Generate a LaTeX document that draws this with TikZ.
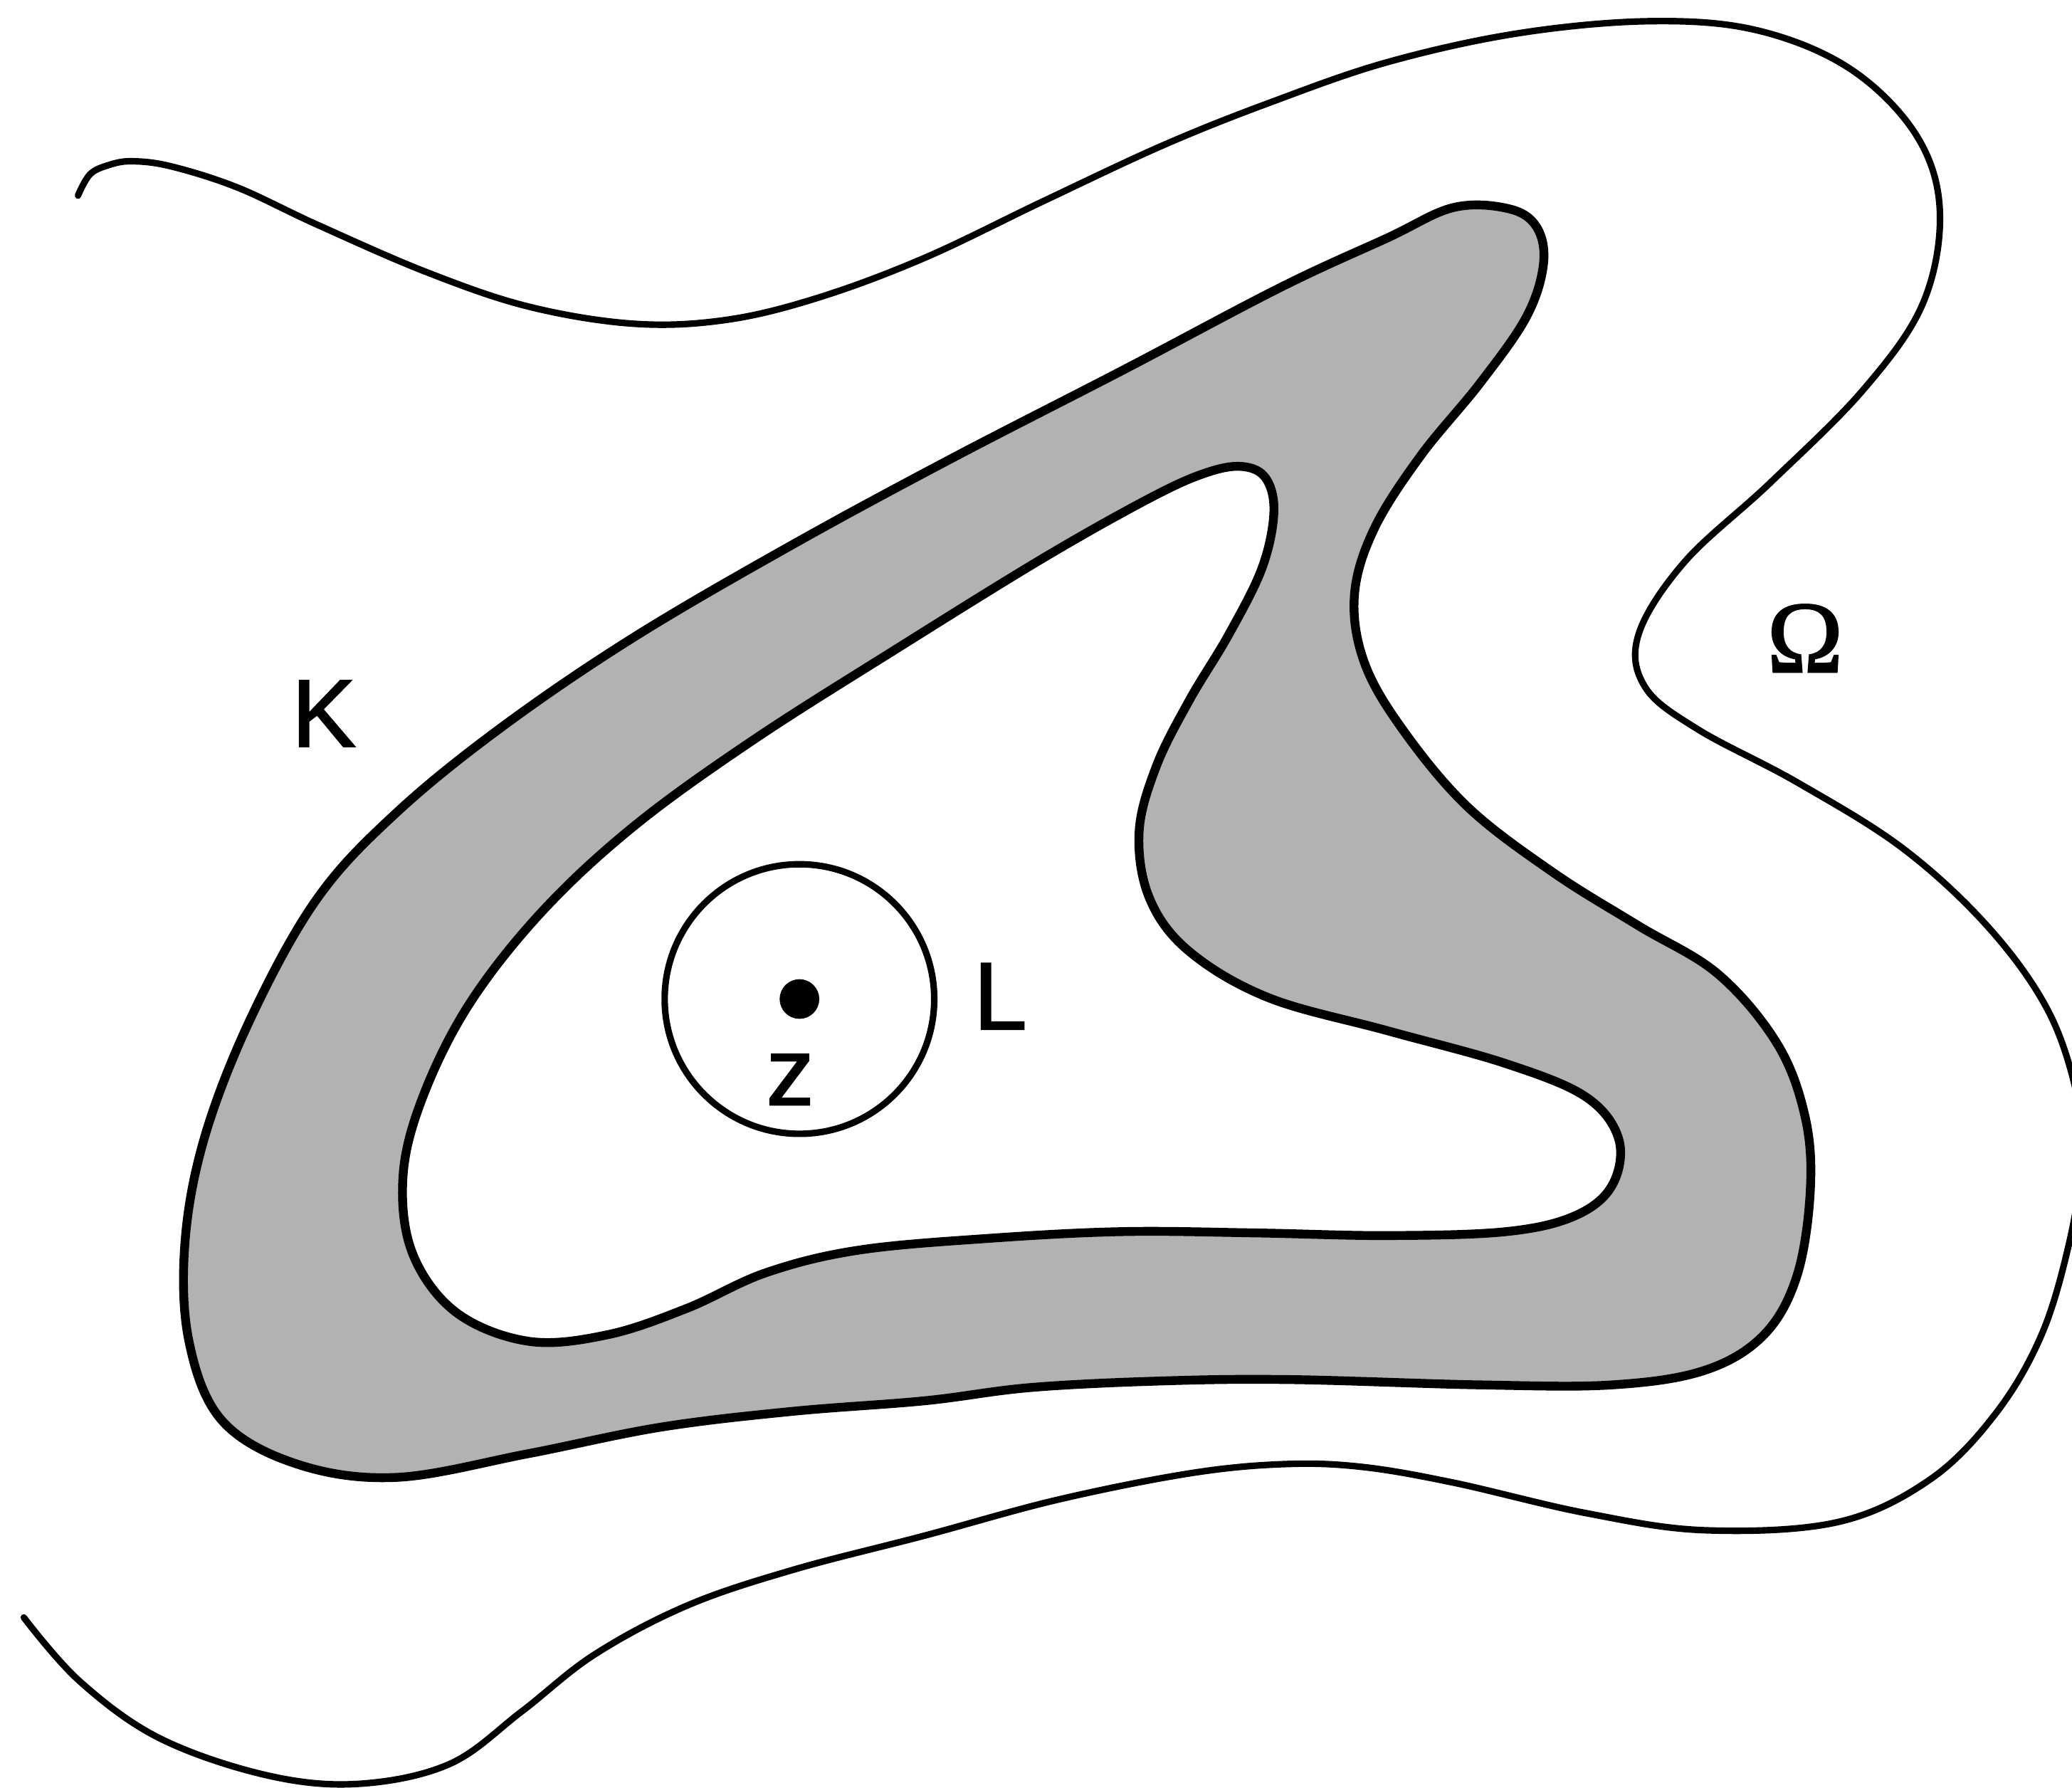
\documentclass[tikz,border=0pt]{standalone}
\usepackage{fontspec}
\setmainfont{Liberation Sans}
\newfontface\lblfont{Liberation Sans}[FakeBold=1.6]
\newfontface\omfont{Liberation Serif}[FakeBold=1.6]
\begin{document}
\begin{tikzpicture}[x=0.01cm,y=-0.01cm,
  thinline/.style={line width=1.4pt, line cap=round, line join=round},
  bandline/.style={line width=1.9pt, line join=round},
  lbl/.style={inner sep=0pt, font=\lblfont\fontsize{20.6}{24}\selectfont}]
\useasboundingbox (0,0) rectangle (1568,1353);
\begin{scope}
\clip (0,0) rectangle (1568,1353);
% shaded band K (outer boundary)
\filldraw[bandline, fill=black!30] plot[smooth cycle, tension=0.6] coordinates {
 (1100,157) (1142,158) (1163,172) (1168,200) (1155,240) (1120,290) (1075,345)
 (1040,400) (1025,450) (1032,500) (1060,550) (1110,610) (1175,660) (1239,700)
 (1300,737) (1345,790) (1366,845) (1370,900) (1360,965) (1335,1010) (1290,1037)
 (1220,1048) (1120,1048) (977,1044) (880,1045) (780,1050) (700,1060)
 (600,1068) (500,1080) (400,1100) (300,1118) (225,1108) (168,1075) (143,1015)
 (140,940) (155,860) (190,770) (240,680) (300,615) (380,550) (480,482)
 (600,412) (720,347) (850,280) (970,217) (1050,180)};
% inner hole
\filldraw[bandline, fill=white] plot[smooth cycle, tension=0.6] coordinates {
 (940,353) (958,362) (964,388) (955,430) (930,480) (900,530) (875,580)
 (862,630) (870,680) (900,720) (960,755) (1050,780) (1140,805) (1200,830)
 (1225,862) (1220,897) (1192,920) (1140,932) (1050,935) (950,933) (850,932)
 (750,937) (650,946) (580,963) (520,990) (460,1010) (400,1015) (345,993)
 (312,948) (305,890) (320,830) (355,760) (410,690) (480,625) (570,560)
 (680,490) (790,422) (870,377) (912,358)};
% outer curve Omega
\draw[thinline] plot[smooth, tension=0.6] coordinates {
 (59,148) (68,132) (82,125) (100,122) (130,126) (180,142) (240,170) (323,206)
 (400,232) (480,245) (550,242) (620,225) (700,195) (790,152) (880,110)
 (960,78) (1050,47) (1150,25) (1250,16) (1330,23) (1400,52) (1450,102)
 (1468,160) (1455,230) (1410,295) (1340,365) (1275,425) (1240,480) (1245,520)
 (1285,552) (1360,592) (1440,642) (1505,702) (1550,765) (1572,830) (1575,880)
 (1566,940) (1545,1010) (1510,1070) (1460,1120) (1390,1152) (1290,1158)
 (1200,1145) (1100,1122) (1030,1110) (971,1108) (900,1115) (800,1135)
 (700,1162) (600,1188) (520,1215) (450,1252) (395,1295) (340,1335)
 (270,1350) (200,1343) (120,1315) (60,1272) (18,1224)};
\end{scope}
% disc L with point z
\draw[thinline] (605,756) circle[radius=102];
\fill (605,756) circle[radius=15];
\node[lbl] (K) at (245,540) {K};
\node[lbl] (L) at (757,754) {L};
\node[lbl] (z) at (598,817) {z};
\node[inner sep=0pt, font=\omfont\fontsize{22}{26}\selectfont] (Om) at (1366,483) {Ω};
\end{tikzpicture}
\end{document}
